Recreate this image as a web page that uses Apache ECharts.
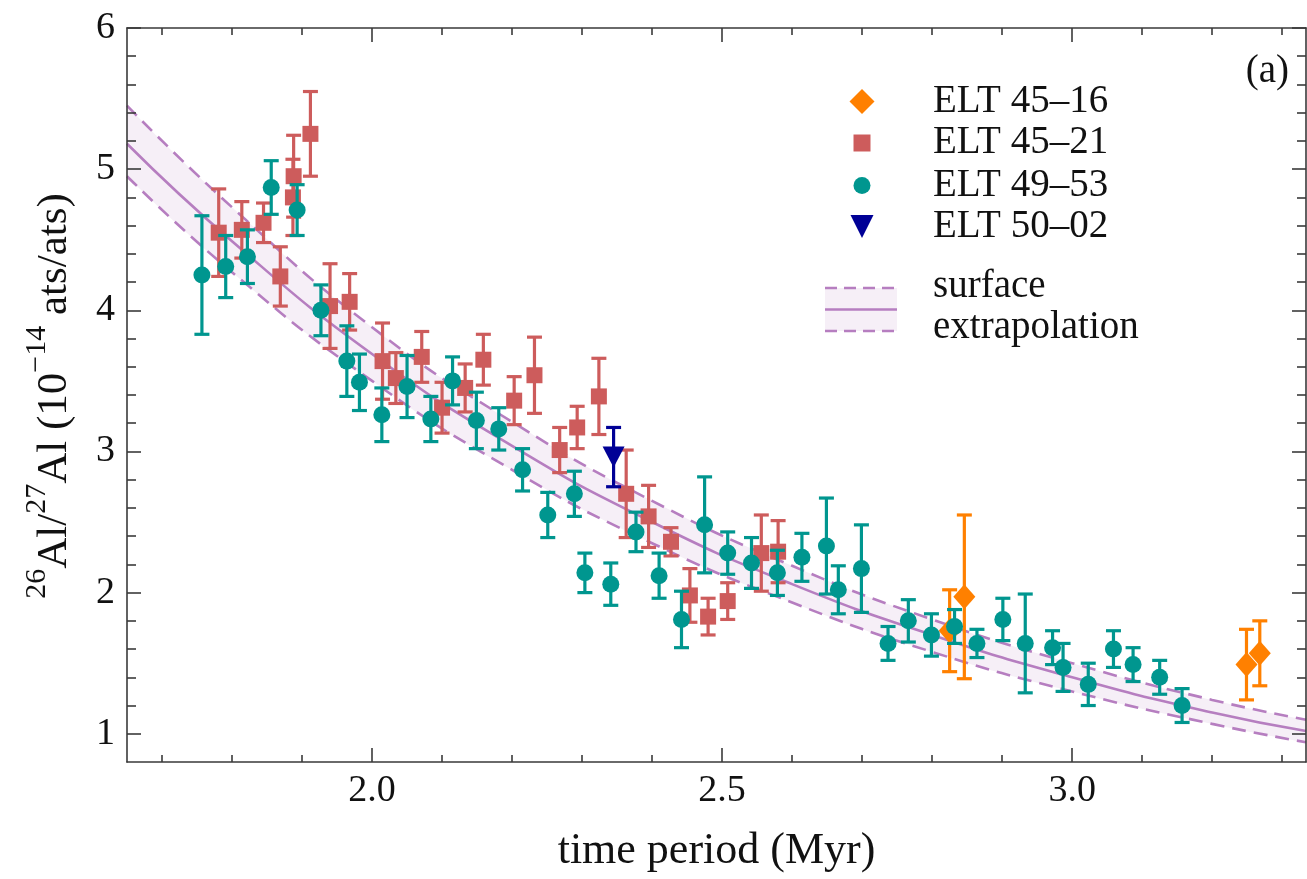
<!DOCTYPE html>
<html>
<head>
<meta charset="utf-8">
<script src="https://cdn.jsdelivr.net/npm/echarts@6/dist/echarts.min.js"></script>
<style>
  html, body { margin: 0; padding: 0; background: #ffffff; }
  #chart { width: 1307px; height: 879px; }
</style>
</head>
<body>
<div id="chart"></div>
<script>
// Each measurement: [time period (Myr), 26Al/27Al (1e-14), 1-sigma error]
const elt4516 = [
  [2.825, 1.73, 0.29], [2.846, 1.97, 0.58], [3.249, 1.49, 0.25], [3.268, 1.57, 0.23]
];
const elt4521 = [
  [1.781, 4.55, 0.31], [1.814, 4.57, 0.20], [1.845, 4.62, 0.14], [1.869, 4.24, 0.21],
  [1.887, 4.80, 0.27], [1.888, 4.95, 0.29], [1.912, 5.25, 0.30], [1.940, 4.03, 0.30],
  [1.968, 4.06, 0.20], [2.015, 3.64, 0.27], [2.034, 3.52, 0.18], [2.071, 3.67, 0.18],
  [2.100, 3.31, 0.18], [2.133, 3.45, 0.17], [2.159, 3.65, 0.18], [2.203, 3.36, 0.17],
  [2.232, 3.54, 0.27], [2.268, 3.01, 0.16], [2.293, 3.17, 0.15], [2.324, 3.39, 0.27],
  [2.363, 2.70, 0.31], [2.395, 2.54, 0.22], [2.427, 2.36, 0.10], [2.454, 1.98, 0.19],
  [2.480, 1.83, 0.13], [2.508, 1.94, 0.13], [2.556, 2.28, 0.27], [2.580, 2.29, 0.22]
];
const elt4953 = [
  [1.757, 4.25, 0.42], [1.791, 4.31, 0.22], [1.822, 4.38, 0.19], [1.856, 4.87, 0.19],
  [1.893, 4.71, 0.18], [1.927, 4.00, 0.18], [1.964, 3.64, 0.25], [1.982, 3.49, 0.20],
  [2.014, 3.26, 0.19], [2.050, 3.46, 0.22], [2.084, 3.23, 0.16], [2.115, 3.50, 0.17],
  [2.149, 3.22, 0.20], [2.181, 3.16, 0.15], [2.215, 2.87, 0.15], [2.251, 2.55, 0.16],
  [2.289, 2.70, 0.16], [2.304, 2.14, 0.14], [2.341, 2.06, 0.15], [2.377, 2.43, 0.14],
  [2.410, 2.12, 0.16], [2.442, 1.81, 0.20], [2.475, 2.48, 0.34], [2.508, 2.28, 0.15],
  [2.542, 2.21, 0.18], [2.579, 2.14, 0.16], [2.614, 2.25, 0.17], [2.649, 2.33, 0.34],
  [2.666, 2.02, 0.17], [2.699, 2.17, 0.31], [2.737, 1.64, 0.12], [2.766, 1.80, 0.15],
  [2.799, 1.70, 0.15], [2.832, 1.76, 0.12], [2.864, 1.64, 0.10], [2.901, 1.81, 0.15],
  [2.933, 1.64, 0.35], [2.972, 1.61, 0.12], [2.987, 1.47, 0.17], [3.023, 1.35, 0.15],
  [3.059, 1.60, 0.13], [3.087, 1.49, 0.12], [3.125, 1.40, 0.12], [3.157, 1.20, 0.12]
];
const elt5002 = [
  [2.345, 2.96, 0.21]
];

// Surface extrapolation: central curve and its envelope
const modelTime   = [1.65, 1.80, 2.00, 2.20, 2.40, 2.60, 2.80, 3.00, 3.20, 3.334];
const modelCentre = [5.18, 4.49, 3.69, 3.04, 2.50, 2.06, 1.70, 1.40, 1.15, 1.02];
const modelUpper  = [5.45, 4.73, 3.88, 3.21, 2.65, 2.19, 1.81, 1.50, 1.24, 1.10];
const modelLower  = [4.95, 4.27, 3.50, 2.87, 2.35, 1.93, 1.58, 1.30, 1.07, 0.94];

// Axis ticks
const xMajorTicks = [2.0, 2.5, 3.0];
const xMinorTicks = [1.7, 1.8, 1.9, 2.1, 2.2, 2.3, 2.4, 2.6, 2.7, 2.8, 2.9, 3.1, 3.2, 3.3];
const yMajorTicks = [1, 2, 3, 4, 5, 6];
const yMinorTicks = [1.2, 1.4, 1.6, 1.8, 2.2, 2.4, 2.6, 2.8, 3.2, 3.4, 3.6, 3.8,
                     4.2, 4.4, 4.6, 4.8, 5.2, 5.4, 5.6, 5.8];

const SERIF = '"Liberation Serif", "Times New Roman", serif';
const INK = '#111111';
const AXIS = '#3a3a3a';
const C_ORANGE = '#ff8000';
const C_RED = '#cd5c5c';
const C_TEAL = '#00968f';
const C_NAVY = '#000096';
const C_BAND_LINE = '#b67ec0';
const C_BAND_FILL = '#f6eff7';
const BAND_DASH = [14, 8];

const X_MIN = 1.65, X_MAX = 3.334, Y_MIN = 0.8, Y_MAX = 6;

const chart = echarts.init(document.getElementById('chart'), null, { renderer: 'canvas' });

function xAxisDef(position, ticks, len, showLine, withLabels) {
  const ax = {
    type: 'value', min: X_MIN, max: X_MAX, position: position, z: 3,
    axisLine: { show: showLine, onZero: false, lineStyle: { color: AXIS, width: 1.6 } },
    axisTick: { show: true, inside: true, length: len, customValues: ticks,
                lineStyle: { color: AXIS, width: 1.6 } },
    axisLabel: { show: false },
    splitLine: { show: false }
  };
  if (withLabels) {
    ax.axisLabel = {
      show: true, customValues: ticks, margin: 10,
      formatter: v => v.toFixed(1),
      fontFamily: SERIF, fontSize: 38, color: INK
    };
    ax.name = 'time period (Myr)';
    ax.nameLocation = 'middle';
    ax.nameGap = 67;
    ax.nameTextStyle = { fontFamily: SERIF, fontSize: 44, color: INK };
  }
  return ax;
}

function yAxisDef(position, ticks, len, showLine, withLabels) {
  const ax = {
    type: 'value', min: Y_MIN, max: Y_MAX, position: position, z: 3,
    axisLine: { show: showLine, onZero: false, lineStyle: { color: AXIS, width: 1.6 } },
    axisTick: { show: true, inside: true, length: len, customValues: ticks,
                lineStyle: { color: AXIS, width: 1.6 } },
    axisLabel: { show: false },
    splitLine: { show: false }
  };
  if (withLabels) {
    ax.axisLabel = {
      show: true, customValues: ticks, margin: 12,
      formatter: v => String(v),
      fontFamily: SERIF, fontSize: 38, color: INK
    };
  }
  return ax;
}

function errorBars(color) {
  return function (params, api) {
    const x = api.value(0), y = api.value(1), e = api.value(2);
    const top = api.coord([x, y + e]);
    const bot = api.coord([x, y - e]);
    const hw = 7.5;
    const style = { stroke: color, lineWidth: 3.2, fill: null };
    return {
      type: 'group',
      children: [
        { type: 'line', shape: { x1: top[0], y1: top[1], x2: bot[0], y2: bot[1] }, style: style },
        { type: 'line', shape: { x1: top[0] - hw, y1: top[1], x2: top[0] + hw, y2: top[1] }, style: style },
        { type: 'line', shape: { x1: bot[0] - hw, y1: bot[1], x2: bot[0] + hw, y2: bot[1] }, style: style }
      ]
    };
  };
}

function errorSeries(name, data, color, z) {
  return {
    name: name, type: 'custom', data: data, z: z, silent: true,
    encode: { x: 0, y: 1 },
    renderItem: errorBars(color)
  };
}

function pointSeries(name, data, color, symbol, size, z, rotate) {
  return {
    name: name, type: 'scatter', data: data.map(d => [d[0], d[1]]), z: z,
    symbol: symbol, symbolSize: size, symbolRotate: rotate || 0,
    itemStyle: { color: color, opacity: 1 },
    emphasis: { disabled: true }
  };
}

const pair = (xs, ys) => xs.map((t, i) => [t, ys[i]]);

// Legend rows: marker centred at x = 862, text starting at x = 933
const legendRows = [
  { name: 'ELT 45–16', icon: 'diamond', size: 25, y: 101.5 },
  { name: 'ELT 45–21', icon: 'rect', size: 17, y: 143 },
  { name: 'ELT 49–53', icon: 'circle', size: 17, y: 185.5 },
  { name: 'ELT 50–02', icon: 'path://M0,0L2,0L1,2Z', size: 23, y: 226.5 }
];

const option = {
  animation: false,
  backgroundColor: '#ffffff',
  grid: { left: 127, top: 28, right: 1, bottom: 117, containLabel: false },
  xAxis: [
    xAxisDef('bottom', xMajorTicks, 14, true, true),
    xAxisDef('bottom', xMinorTicks, 7, false, false),
    xAxisDef('top', xMajorTicks, 14, true, false),
    xAxisDef('top', xMinorTicks, 7, false, false)
  ],
  yAxis: [
    yAxisDef('left', yMajorTicks, 14, true, true),
    yAxisDef('left', yMinorTicks, 9, false, false),
    yAxisDef('right', yMajorTicks, 14, true, false),
    yAxisDef('right', yMinorTicks, 9, false, false)
  ],
  legend: legendRows.map(r => ({
    data: [{ name: r.name, icon: r.icon }],
    orient: 'vertical',
    left: 862 - r.size / 2, top: r.y - 20,
    itemWidth: r.size, itemHeight: r.size,
    padding: 0, selectedMode: false,
    formatter: name => '{g|}{t|' + name + '}',
    textStyle: {
      fontFamily: SERIF, fontSize: 39, lineHeight: 40, color: INK,
      rich: {
        g: { width: 66 - r.size / 2, height: 40 },
        t: { fontFamily: SERIF, fontSize: 39, lineHeight: 40, color: INK }
      }
    }
  })),
  series: [
    // envelope: lavender fill under the upper curve, masked in white under the lower one
    { name: 'band-upper-fill', type: 'line', data: pair(modelTime, modelUpper),
      smooth: true, symbol: 'none', silent: true, z: 1,
      lineStyle: { opacity: 0 },
      areaStyle: { color: C_BAND_FILL, opacity: 1, origin: 'start' } },
    { name: 'band-lower-mask', type: 'line', data: pair(modelTime, modelLower),
      smooth: true, symbol: 'none', silent: true, z: 1,
      lineStyle: { opacity: 0 },
      areaStyle: { color: '#ffffff', opacity: 1, origin: 'start' } },
    { name: 'upper', type: 'line', data: pair(modelTime, modelUpper), smooth: true,
      symbol: 'none', silent: true, z: 2,
      lineStyle: { color: C_BAND_LINE, width: 2.6, type: BAND_DASH } },
    { name: 'lower', type: 'line', data: pair(modelTime, modelLower), smooth: true,
      symbol: 'none', silent: true, z: 2,
      lineStyle: { color: C_BAND_LINE, width: 2.6, type: BAND_DASH } },
    { name: 'surface', type: 'line', data: pair(modelTime, modelCentre), smooth: true,
      symbol: 'none', silent: true, z: 2,
      lineStyle: { color: C_BAND_LINE, width: 2.6 } },

    errorSeries('err 45-16', elt4516, C_ORANGE, 4),
    pointSeries('ELT 45–16', elt4516, C_ORANGE, 'diamond', [22, 25], 5),
    errorSeries('err 45-21', elt4521, C_RED, 6),
    pointSeries('ELT 45–21', elt4521, C_RED, 'rect', 16, 7),
    errorSeries('err 49-53', elt4953, C_TEAL, 8),
    pointSeries('ELT 49–53', elt4953, C_TEAL, 'circle', 17, 9),
    errorSeries('err 50-02', elt5002, C_NAVY, 10),
    pointSeries('ELT 50–02', elt5002, C_NAVY, 'triangle', [22, 21], 11, 180)
  ],
  graphic: [
    // legend entry for the extrapolation band
    { type: 'rect', shape: { x: 825, y: 288, width: 72, height: 43 },
      style: { fill: C_BAND_FILL } },
    { type: 'line', shape: { x1: 825, y1: 288, x2: 897, y2: 288 },
      style: { stroke: C_BAND_LINE, lineWidth: 2.6, lineDash: [12, 7] } },
    { type: 'line', shape: { x1: 825, y1: 309.5, x2: 897, y2: 309.5 },
      style: { stroke: C_BAND_LINE, lineWidth: 2.6 } },
    { type: 'line', shape: { x1: 825, y1: 331, x2: 897, y2: 331 },
      style: { stroke: C_BAND_LINE, lineWidth: 2.6, lineDash: [12, 7] } },
    { type: 'text', x: 933, y: 287,
      style: { text: 'surface', fontFamily: SERIF, fontSize: 39, fill: INK,
               align: 'left', verticalAlign: 'middle' } },
    { type: 'text', x: 933, y: 328,
      style: { text: 'extrapolation', fontFamily: SERIF, fontSize: 39, fill: INK,
               align: 'left', verticalAlign: 'middle' } },
    // panel tag
    { type: 'text', x: 1289, y: 72,
      style: { text: '(a)', fontFamily: SERIF, fontSize: 39, fill: INK,
               align: 'right', verticalAlign: 'middle' } },
    // y-axis title with superscripts
    { type: 'text', x: 49, y: 396, rotation: Math.PI / 2,
      style: {
        text: '{s|26}{m|Al/}{s|27}{m|Al (10}{s|−14}{m| ats/ats)}',
        align: 'center', verticalAlign: 'middle',
        rich: {
          m: { fontFamily: SERIF, fontSize: 43, lineHeight: 43, verticalAlign: 'bottom', fill: INK },
          s: { fontFamily: SERIF, fontSize: 30, lineHeight: 54, verticalAlign: 'top', fill: INK }
        }
      } }
  ]
};

chart.setOption(option);
</script>
</body>
</html>
